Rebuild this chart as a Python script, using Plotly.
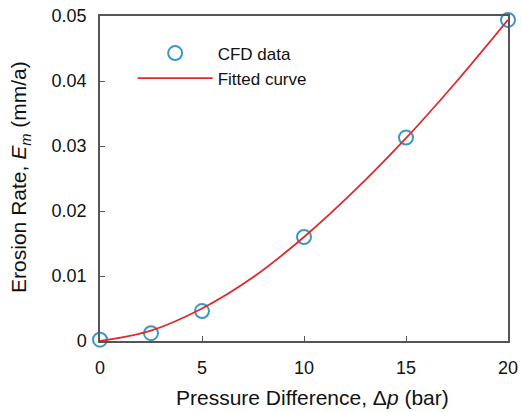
import plotly.graph_objects as go

# CFD data points
dp_data = [0, 2.5, 5, 10, 15, 20]
em_data = [0.0002, 0.0012, 0.0046, 0.0160, 0.0313, 0.0494]

# Fitted curve
dp_fit = [0, 2.5, 5, 7.5, 10, 12.5, 15, 17.5, 20]
em_fit = [0.0, 0.0016, 0.0050, 0.0098, 0.0160, 0.0232, 0.0312, 0.0400, 0.0494]

x_ticks = [0, 5, 10, 15, 20]
y_ticks = [0, 0.01, 0.02, 0.03, 0.04, 0.05]
y_labels = ["0", "0.01", "0.02", "0.03", "0.04", "0.05"]

x_title = "Pressure Difference, Δ<i>p</i> (bar)"
y_title = "Erosion Rate, <i>E<sub>m</sub></i> (mm/a)"

fig = go.Figure()
fig.add_trace(go.Scatter(
    x=dp_data, y=em_data, mode="markers", name="CFD data",
    marker=dict(symbol="circle-open", size=14, color="#3a97c6", line=dict(width=2)),
    cliponaxis=False,
))
fig.add_trace(go.Scatter(
    x=dp_fit, y=em_fit, mode="lines", name="Fitted curve",
    line=dict(color="#e02a2e", width=1.8, shape="spline"),
    cliponaxis=False,
))

axis_common = dict(
    showline=True, mirror=True, linecolor="#555555", linewidth=1.5,
    ticks="inside", ticklen=5, tickcolor="#555555",
    showgrid=False, zeroline=False, automargin=False,
    tickfont=dict(family="Liberation Sans, Arial", size=18, color="#111111"),
)

fig.update_layout(
    width=522, height=412,
    margin=dict(l=100, r=14, t=16, b=71),
    paper_bgcolor="white", plot_bgcolor="white",
    font=dict(family="Liberation Sans, Arial", color="#111111"),
    showlegend=True,
    legend=dict(
        x=0.08, y=0.94, xanchor="left", yanchor="top",
        bgcolor="rgba(0,0,0,0)", borderwidth=0,
        font=dict(size=17), itemwidth=75,
    ),
    xaxis=dict(range=[0, 20], tickvals=x_ticks, ticklabelstandoff=10, **axis_common),
    yaxis=dict(range=[0, 0.05], tickvals=y_ticks, ticktext=y_labels,
               ticklabelstandoff=8, **axis_common),
    annotations=[
        dict(text=x_title, xref="paper", yref="paper", x=0.52, y=-0.216,
             xanchor="center", yanchor="bottom", showarrow=False,
             font=dict(size=21, color="#111111")),
        dict(text=y_title, xref="paper", yref="paper", x=-0.196, y=0.505,
             xanchor="center", yanchor="middle", showarrow=False, textangle=-90,
             font=dict(size=21, color="#111111")),
    ],
)

fig.write_html("out.html")
